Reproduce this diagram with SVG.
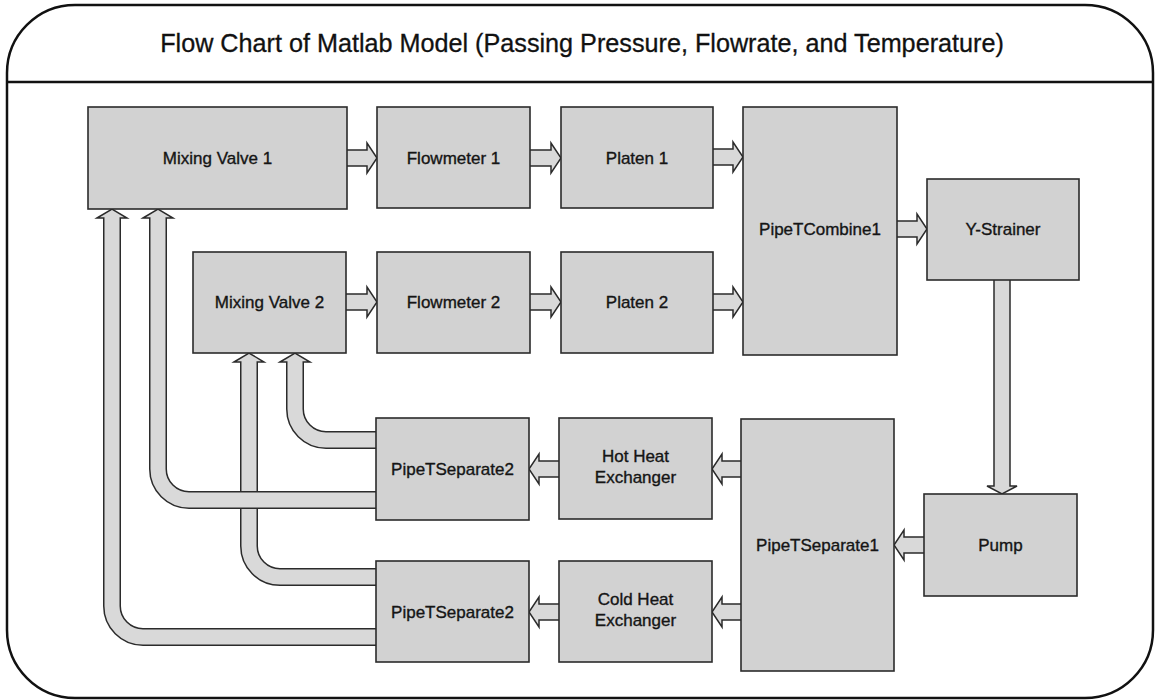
<svg xmlns="http://www.w3.org/2000/svg" width="1155" height="700" viewBox="0 0 1155 700">
<style>
.frame{fill:#fff;stroke:#111;stroke-width:2.5}
.hdr{stroke:#111;stroke-width:2.5}
.title{font-family:"Liberation Sans",Arial,sans-serif;font-size:25.2px;fill:#111;stroke:#111;stroke-width:0.3;text-anchor:middle}
.box{fill:#d2d2d2;stroke:#2b2b2b;stroke-width:1.6}
.lbl{font-family:"Liberation Sans",Arial,sans-serif;font-size:17px;fill:#151515;stroke:#151515;stroke-width:0.35;text-anchor:middle}
.arr{fill:#d9d9d9;stroke:#2b2b2b;stroke-width:1.5;stroke-linejoin:miter}
.po{fill:none;stroke:#2b2b2b;stroke-width:18}
.pi{fill:none;stroke:#d9d9d9;stroke-width:15}
</style>
<rect class="frame" x="7" y="5" width="1146" height="693" rx="68" ry="68"/>
<line class="hdr" x1="7" y1="82" x2="1153" y2="82"/>
<text class="title" x="582" y="52">Flow Chart of Matlab Model (Passing Pressure, Flowrate, and Temperature)</text>

<g id="connectors">
  <!-- pipe 1: PipeTSeparate2 (bottom) -> Mixing Valve 1 -->
  <path class="po" d="M 380 637 H 143 A 31 31 0 0 1 112 606 V 218"/>
  <polygon class="arr" points="97,218 112,209 127,218"/>
  <path class="pi" d="M 380 637 H 143 A 31 31 0 0 1 112 606 V 216.5"/>
  <!-- pipe 2: PipeTSeparate2 (bottom) -> Mixing Valve 2 -->
  <path class="po" d="M 380 577 H 280 A 31 31 0 0 1 249 546 V 362"/>
  <polygon class="arr" points="234,362 249,353 264,362"/>
  <path class="pi" d="M 380 577 H 280 A 31 31 0 0 1 249 546 V 360.5"/>
  <!-- pipe 4: PipeTSeparate2 (top) -> Mixing Valve 2 -->
  <path class="po" d="M 380 440 H 326 A 31 31 0 0 1 295 409 V 362"/>
  <polygon class="arr" points="280,362 295,353 310,362"/>
  <path class="pi" d="M 380 440 H 326 A 31 31 0 0 1 295 409 V 360.5"/>
  <!-- pipe 3: PipeTSeparate2 (top) -> Mixing Valve 1 -->
  <path class="po" d="M 380 500 H 189 A 31 31 0 0 1 158 469 V 218"/>
  <polygon class="arr" points="143,218 158,209 173,218"/>
  <path class="pi" d="M 380 500 H 189 A 31 31 0 0 1 158 469 V 216.5"/>

  <!-- straight block arrows -->
  <polygon class="arr" points="344,150 367,150 367,143 377,158 367,173 367,166 344,166"/>
  <polygon class="arr" points="527,150 551,150 551,143 561,158 551,173 551,166 527,166"/>
  <polygon class="arr" points="710,149 733,149 733,142 743,157 733,172 733,165 710,165"/>
  <polygon class="arr" points="343,294 367,294 367,287 377,302 367,317 367,310 343,310"/>
  <polygon class="arr" points="527,294 551,294 551,287 561,302 551,317 551,310 527,310"/>
  <polygon class="arr" points="710,294 733,294 733,287 743,302 733,317 733,310 710,310"/>
  <polygon class="arr" points="894,221 917,221 917,214 927,229 917,244 917,237 894,237"/>
  <polygon class="arr" points="994,277 994,486 987,486 1002,494 1017,486 1010,486 1010,277"/>
  <polygon class="arr" points="927,537 904,537 904,530 894,545 904,560 904,553 927,553"/>
  <polygon class="arr" points="744,461 722,461 722,454 712,469 722,484 722,477 744,477"/>
  <polygon class="arr" points="744,604 722,604 722,597 712,612 722,627 722,620 744,620"/>
  <polygon class="arr" points="562,461 539,461 539,454 529,469 539,484 539,477 562,477"/>
  <polygon class="arr" points="562,604 539,604 539,597 529,612 539,627 539,620 562,620"/>
</g>

<g id="mixing-valve-1"><rect class="box" x="88" y="107" width="259" height="102"/><text class="lbl" x="217.5" y="164">Mixing Valve 1</text></g>
<g id="flowmeter-1"><rect class="box" x="377" y="107" width="153" height="101"/><text class="lbl" x="453.5" y="164">Flowmeter 1</text></g>
<g id="platen-1"><rect class="box" x="561" y="107" width="152" height="101"/><text class="lbl" x="637" y="164">Platen 1</text></g>
<g id="pipetcombine1"><rect class="box" x="743" y="107" width="154" height="248"/><text class="lbl" x="820" y="235">PipeTCombine1</text></g>
<g id="mixing-valve-2"><rect class="box" x="193" y="252" width="153" height="101"/><text class="lbl" x="269.5" y="308">Mixing Valve 2</text></g>
<g id="flowmeter-2"><rect class="box" x="377" y="252" width="153" height="101"/><text class="lbl" x="453.5" y="308">Flowmeter 2</text></g>
<g id="platen-2"><rect class="box" x="561" y="252" width="152" height="101"/><text class="lbl" x="637" y="308">Platen 2</text></g>
<g id="y-strainer"><rect class="box" x="927" y="179" width="152" height="101"/><text class="lbl" x="1003" y="235">Y-Strainer</text></g>
<g id="pipetseparate2-top"><rect class="box" x="376" y="418" width="153" height="102"/><text class="lbl" x="452.5" y="475">PipeTSeparate2</text></g>
<g id="hot-heat-exchanger"><rect class="box" x="559" y="418" width="153" height="101"/><text class="lbl" x="635.5" y="462">Hot Heat</text><text class="lbl" x="635.5" y="483">Exchanger</text></g>
<g id="pipetseparate1"><rect class="box" x="741" y="419" width="153" height="252"/><text class="lbl" x="817.5" y="551">PipeTSeparate1</text></g>
<g id="pump"><rect class="box" x="924" y="494" width="153" height="102"/><text class="lbl" x="1000.5" y="551">Pump</text></g>
<g id="pipetseparate2-bottom"><rect class="box" x="376" y="561" width="153" height="101"/><text class="lbl" x="452.5" y="618">PipeTSeparate2</text></g>
<g id="cold-heat-exchanger"><rect class="box" x="559" y="561" width="153" height="101"/><text class="lbl" x="635.5" y="605">Cold Heat</text><text class="lbl" x="635.5" y="626">Exchanger</text></g>
</svg>
